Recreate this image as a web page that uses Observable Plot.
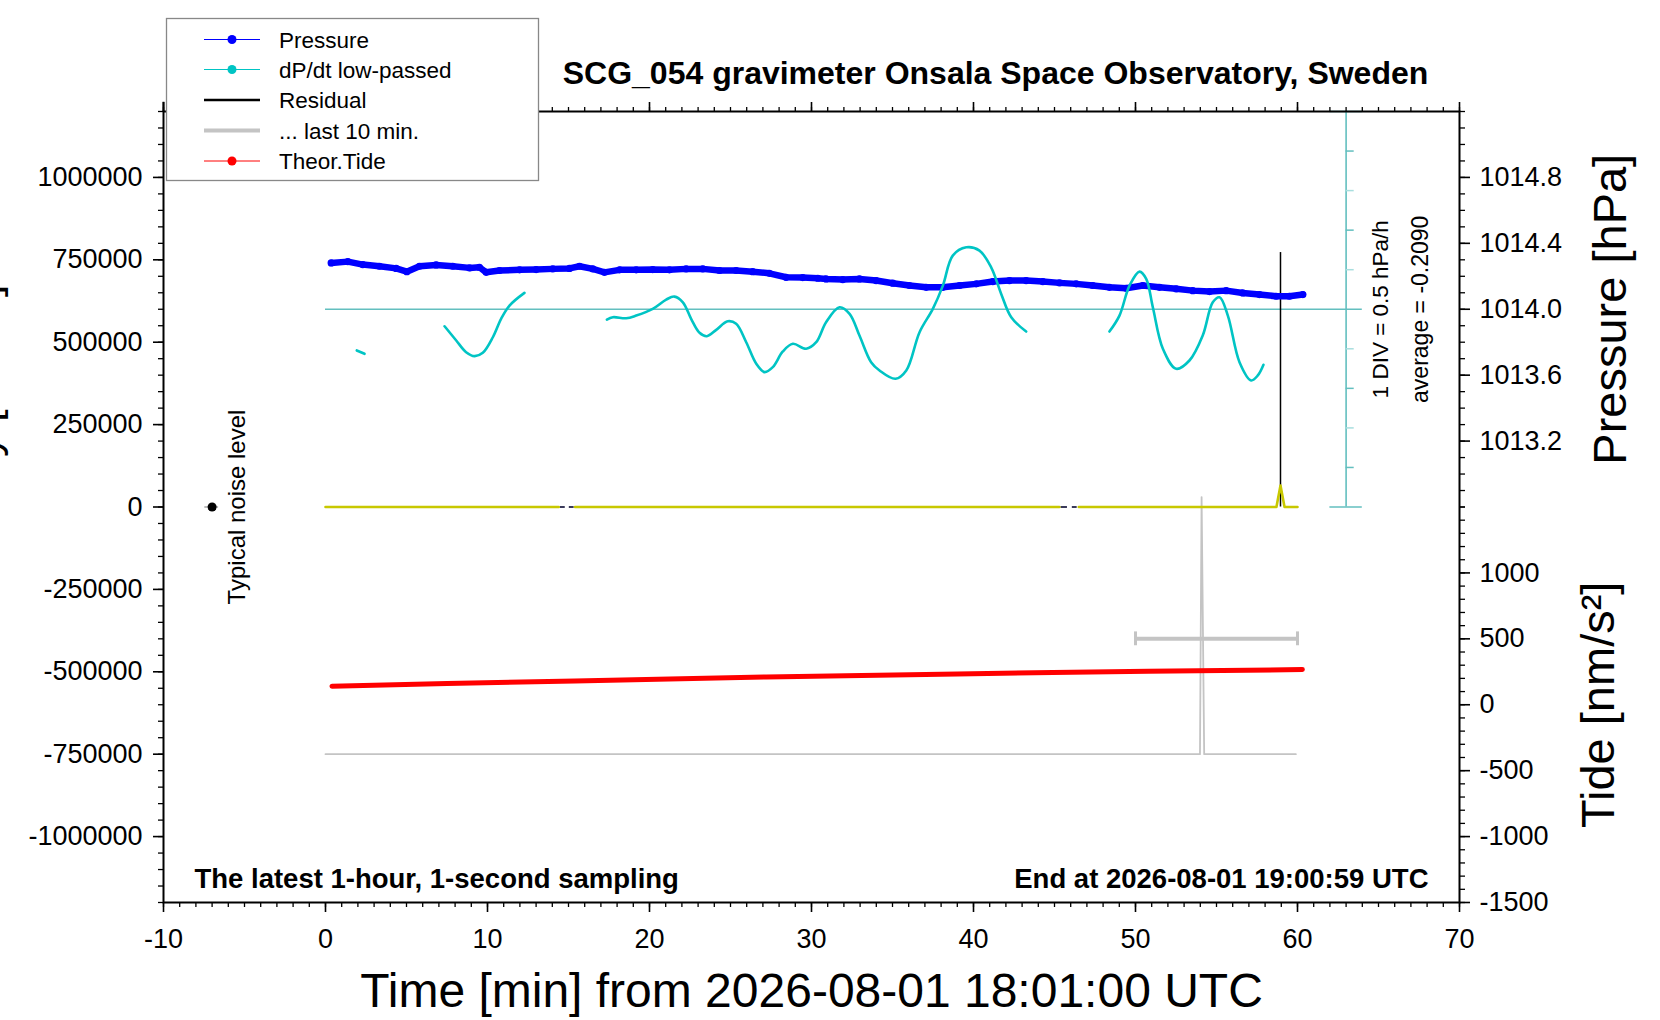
<!DOCTYPE html>
<html><head><meta charset="utf-8">
<script src="https://cdn.jsdelivr.net/npm/d3@7"></script>
<script src="https://cdn.jsdelivr.net/npm/@observablehq/plot@0.6"></script>
<style>
html,body{margin:0;padding:0;background:#fff;}
#chart{width:1660px;height:1020px;overflow:hidden;}
#chart svg text{font-family:"Liberation Sans", Arial, Helvetica, sans-serif;}
</style></head><body><div id="chart"></div>
<script>
// ---------------- data ----------------
const titleText = "SCG_054 gravimeter Onsala Space Observatory, Sweden";
const xLabel = "Time [min] from 2026-08-01 18:01:00 UTC";
const leftNote = "The latest 1-hour, 1-second sampling";
const rightNote = "End at 2026-08-01 19:00:59 UTC";
const legendLabels = ["Pressure", "dP/dt low-passed", "Residual", "... last 10 min.", "Theor.Tide"];

const xTicks = [-10, 0, 10, 20, 30, 40, 50, 60, 70];
const leftTicks = [-1000000, -750000, -500000, -250000, 0, 250000, 500000, 750000, 1000000];
const pressureTicks = [1013.2, 1013.6, 1014.0, 1014.4, 1014.8];
const tideTicks = [-1500, -1000, -500, 0, 500, 1000];

// pressure [hPa] : [minute, hPa]
const pressureReadings = [
 [0.35,1014.281],[1.38,1014.289],[2.3,1014.271],[3.33,1014.261],[4.36,1014.248],[5.02,1014.228],
 [5.8,1014.261],[6.83,1014.269],[7.86,1014.261],[8.89,1014.251],[9.5,1014.255],[9.92,1014.224],
 [10.74,1014.235],[11.98,1014.239],[13.0,1014.241],[14.03,1014.245],[15.06,1014.248],[15.68,1014.261],
 [16.5,1014.245],[17.22,1014.224],[18.15,1014.239],[19.18,1014.239],[20.2,1014.241],[21.23,1014.239],
 [22.26,1014.245],[23.29,1014.245],[24.32,1014.235],[25.35,1014.235],[26.37,1014.228],[27.4,1014.218],
 [28.43,1014.194],[29.46,1014.192],[30.39,1014.188],[30.9,1014.184],[31.93,1014.180],[32.96,1014.184],
 [33.99,1014.174],[35.02,1014.158],[36.05,1014.144],[37.08,1014.133],[38.11,1014.133],[39.14,1014.144],
 [40.17,1014.154],[41.19,1014.168],[42.22,1014.174],[43.25,1014.174],[44.28,1014.168],[45.31,1014.160],
 [46.34,1014.154],[47.36,1014.144],[48.39,1014.133],[49.42,1014.127],[50.45,1014.144],[51.48,1014.133],
 [52.51,1014.124],[53.54,1014.113],[54.57,1014.107],[55.6,1014.113],[56.62,1014.099],[57.65,1014.089],
 [58.68,1014.079],[59.5,1014.079],[60.33,1014.089]
];

// dP/dt low-passed [hPa/h] : [segment, minute, value]
const dpdtAverage = -0.2090;
const dpdtDiv = 0.5;
const dpdtReadings = [
 [1,1.93,-0.730],[1,2.41,-0.772],
 [2,7.35,-0.424],[2,8.07,-0.604],[2,8.68,-0.752],[2,9.2,-0.802],[2,9.71,-0.760],[2,10.33,-0.563],
 [2,10.84,-0.330],[2,11.36,-0.162],[2,12.28,-0.002],
 [3,17.37,-0.339],[3,17.74,-0.310],[3,18.56,-0.323],[3,19.18,-0.289],[3,20.2,-0.204],[3,21.03,-0.087],
 [3,21.54,-0.049],[3,22.06,-0.121],[3,22.57,-0.330],[3,23.09,-0.507],[3,23.54,-0.550],[3,24.12,-0.469],
 [3,24.83,-0.361],[3,25.35,-0.393],[3,25.97,-0.626],[3,26.59,-0.898],[3,27.1,-1.004],[3,27.61,-0.941],
 [3,28.23,-0.743],[3,28.85,-0.646],[3,29.67,-0.709],[3,30.29,-0.626],[3,30.9,-0.373],[3,31.73,-0.184],
 [3,32.35,-0.267],[3,32.96,-0.541],[3,33.68,-0.878],[3,34.2,-0.983],[3,35.19,-1.088],[3,35.85,-0.983],
 [3,36.67,-0.499],[3,37.49,-0.204],[3,38.11,0.090],[3,38.72,0.469],[3,39.55,0.574],[3,40.37,0.532],
 [3,41.09,0.321],[3,41.71,-0.015],[3,42.33,-0.310],[3,43.25,-0.491],
 [4,48.39,-0.491],[4,49.01,-0.289],[4,49.63,0.090],[4,50.25,0.267],[4,50.66,0.175],[4,51.07,-0.184],
 [4,51.69,-0.709],[4,52.51,-0.962],[4,53.33,-0.857],[4,54.15,-0.541],[4,54.77,-0.121],[4,55.19,-0.058],
 [4,55.7,-0.289],[4,56.42,-0.878],[4,57.14,-1.109],[4,57.55,-1.046],[4,57.9,-0.911]
];

// residual (filtered, yellow) : [segment, minute, value]
const residualReadings = [
 [1,0,0],[1,14.4,0],
 [2,15.4,0],[2,45.3,0],
 [3,46.5,0],[3,58.7,0],[3,58.95,65000],[3,59.2,0],[3,60.0,0]
];
// short dark pieces visible in the gaps : [minute start, minute end]
const residualGapPieces = [[14.5,14.8],[15.05,15.35],[45.4,45.8],[46.1,46.4]];
// residual spike (black) : minute, top value
const residualSpike = {t: 58.95, top: 772000};

// ... last 10 min (gray) : [minute, value]
const lastTenReadings = [[0,-750000],[53.98,-750000],[54.08,30000],[54.24,-750000],[59.9,-750000]];
const lastTenBar = {t1: 50, t2: 60, value: -400000, cap: 21000};

// theoretical tide [nm/s^2] : [minute, value]
const tideReadings = [[0.4,141],[7.5,161],[15.4,181],[27.2,211],[39.0,234],[44.9,245],[50.8,254],[60.3,267]];

// typical noise level
const noiseLevel = {t: -7.0, value: 0, t1: -7.45, t2: -6.6, labelT: -5.0};

// ---------------- scale mappings onto the left axis units ----------------
const pressureBase = 1012.8, unitsPerHPa = 500000;
const pToY = p => (p - pressureBase) * unitsPerHPa;
const yToP = y => y / unitsPerHPa + pressureBase;
const tToY = t => t * 400 - 600000;
const yToT = y => (y + 600000) / 400;
const dToY = d => 600000 + (d - dpdtAverage) / dpdtDiv * 120000;
const dpdtAxisT = 63;

const pressure = pressureReadings.map(([t, p]) => ({t, y: pToY(p)}));
const dpdt = dpdtReadings.map(([s, t, d]) => ({s, t, y: dToY(d)}));
const residual = residualReadings.map(([s, t, v]) => ({s, t, y: v}));
const lastTen = lastTenReadings.map(([t, v]) => ({t, y: v}));
const tide = tideReadings.map(([t, v]) => ({t, y: tToY(v)}));
const dpdtDivs = d3.range(-5, 6).map(k => ({k, y: dToY(dpdtAverage + k * dpdtDiv)}));

const minorX = d3.range(-10, 71, 1);
const minorLeft = d3.range(-1200000, 1200001, 50000);
const minorP = d3.range(0, 25).map(k => pToY(pressureBase + k * 0.1));
const minorT = d3.range(-15, 16).map(k => tToY(k * 100));

const font = "Liberation Sans, Arial, Helvetica, sans-serif";
const blank = () => "";

const plot = Plot.plot({
  width: 1660, height: 1020,
  marginLeft: 163, marginRight: 201, marginTop: 111, marginBottom: 118,
  x: {domain: [-10, 70], label: null},
  y: {domain: [-1200000, 1200000], label: null},
  style: {fontFamily: font, fontSize: "27px", background: "white", color: "black"},
  marks: [
    // dP/dt reference axis
    Plot.ruleY([dToY(dpdtAverage)], {x1: 0, x2: 64, stroke: "#63bfbf", strokeWidth: 1.6}),
    Plot.ruleX([dpdtAxisT], {y1: pToY(1012.8), y2: pToY(1015.2), stroke: "#63bfbf", strokeWidth: 1.6}),
    Plot.ruleY(dpdtDivs.filter(d => Math.abs(d.k) !== 5 && d.k !== 0), {y: "y", x1: dpdtAxisT, x2: dpdtAxisT + 0.5,
      stroke: d => (d.k % 2 === 0 ? "a" : "b"), strokeWidth: 1.5}),
    Plot.ruleY(dpdtDivs.filter(d => Math.abs(d.k) === 5), {y: "y", x1: dpdtAxisT - 1, x2: dpdtAxisT + 1, stroke: "#63bfbf", strokeWidth: 1.6}),
    // last 10 min (gray)
    Plot.line(lastTen, {x: "t", y: "y", stroke: "#c4c4c4", strokeWidth: 1.8}),
    Plot.ruleY([lastTenBar.value], {x1: lastTenBar.t1, x2: lastTenBar.t2, stroke: "#c4c4c4", strokeWidth: 4}),
    Plot.ruleX([lastTenBar.t1, lastTenBar.t2], {y1: lastTenBar.value - lastTenBar.cap, y2: lastTenBar.value + lastTenBar.cap, stroke: "#c4c4c4", strokeWidth: 3}),
    // residual (black spike) and filtered residual (yellow)
    Plot.ruleX([residualSpike.t], {y1: 0, y2: residualSpike.top, stroke: "black", strokeWidth: 1.5}),
    Plot.ruleY(residualGapPieces, {y: 0, x1: d => d[0], x2: d => d[1], stroke: "#3a3a5a", strokeWidth: 2}),
    Plot.line(residual, {x: "t", y: "y", z: "s", stroke: "#c8c800", strokeWidth: 2.6}),
    // pressure
    Plot.line(pressure, {x: "t", y: "y", stroke: "#0000ff", strokeWidth: 6.5, strokeLinejoin: "round", strokeLinecap: "round"}),
    Plot.dot(pressure, {x: "t", y: "y", r: 3.6, fill: "#0000ff"}),
    // dP/dt
    Plot.line(dpdt, {x: "t", y: "y", z: "s", stroke: "#00c4c4", strokeWidth: 2.6, curve: "catmull-rom"}),
    // tide
    Plot.line(tide, {x: "t", y: "y", stroke: "#ff0000", strokeWidth: 5, strokeLinecap: "round"}),
    // typical noise level
    Plot.ruleY([noiseLevel], {y: "value", x1: "t1", x2: "t2", stroke: "#bbbbbb", strokeWidth: 2}),
    Plot.dot([noiseLevel], {x: "t", y: "value", r: 4.5, fill: "black"}),
    Plot.text(["Typical noise level"], {x: noiseLevel.labelT, y: noiseLevel.value, rotate: -90, lineAnchor: "bottom", textAnchor: "middle", fontSize: 24}),
    // frame and axes
    Plot.frame({stroke: "black", strokeWidth: 2}),
    Plot.ruleX([-10], {y1: 1200000, y2: 1228000, stroke: "black", strokeWidth: 2}),
    Plot.axisX({ticks: xTicks, tickSize: 10, tickPadding: 16, tickFormat: d => String(d), label: null, fontSize: 27, strokeWidth: 1.6}),
    Plot.axisX({ticks: minorX, tickSize: 5, tickFormat: blank, label: null, strokeWidth: 1.3}),
    Plot.axisX({anchor: "top", ticks: xTicks, tickSize: 10, tickFormat: blank, label: null, strokeWidth: 1.6}),
    Plot.axisX({anchor: "top", ticks: minorX, tickSize: 5, tickFormat: blank, label: null, strokeWidth: 1.3}),
    Plot.axisY({ticks: leftTicks, tickSize: 10, tickPadding: 11, tickFormat: d => String(d), label: null, fontSize: 27, strokeWidth: 1.6}),
    Plot.axisY({ticks: minorLeft, tickSize: 5, tickFormat: blank, label: null, strokeWidth: 1.3}),
    Plot.axisY({anchor: "right", ticks: pressureTicks.map(pToY), tickSize: 10, tickPadding: 10, tickFormat: v => yToP(v).toFixed(1), label: null, fontSize: 27, strokeWidth: 1.6}),
    Plot.axisY({anchor: "right", ticks: minorP, tickSize: 5, tickFormat: blank, label: null, strokeWidth: 1.3}),
    Plot.axisY({anchor: "right", ticks: tideTicks.map(tToY), tickSize: 10, tickPadding: 10, tickFormat: v => String(Math.round(yToT(v))), label: null, fontSize: 27, strokeWidth: 1.6}),
    Plot.axisY({anchor: "right", ticks: minorT, tickSize: 5, tickFormat: blank, label: null, strokeWidth: 1.3}),
    // texts
    Plot.text([titleText], {frameAnchor: "top", dx: 184, dy: -28, lineAnchor: "bottom", textAnchor: "middle", fontWeight: "bold", fontSize: 32}),
    Plot.text([xLabel], {frameAnchor: "bottom", dy: 104, lineAnchor: "bottom", textAnchor: "middle", fontSize: 48}),
    Plot.text(["Pressure [hPa]"], {frameAnchor: "right", y: () => pToY(1014.0), dx: 166, rotate: -90, lineAnchor: "bottom", textAnchor: "middle", fontSize: 47}),
    Plot.text(["Tide [nm/s²]"], {frameAnchor: "right", y: () => tToY(0), dx: 154, rotate: -90, lineAnchor: "bottom", textAnchor: "middle", fontSize: 47}),
    Plot.text(["Gravity [nm/s²]"], {frameAnchor: "top-left", dx: -165, dy: 173, rotate: -90, textAnchor: "end", lineAnchor: "bottom", fontSize: 45}),
    Plot.text([`1 DIV = ${dpdtDiv} hPa/h`], {frameAnchor: "right", y: () => dToY(dpdtAverage), dx: -71.5, rotate: -90, lineAnchor: "bottom", textAnchor: "middle", fontSize: 22.5}),
    Plot.text([`average = ${dpdtAverage.toFixed(4)}`], {frameAnchor: "right", y: () => dToY(dpdtAverage), dx: -32, rotate: -90, lineAnchor: "bottom", textAnchor: "middle", fontSize: 23}),
    Plot.text([leftNote], {frameAnchor: "bottom-left", dx: 31, dy: -15, lineAnchor: "bottom", textAnchor: "start", fontWeight: "bold", fontSize: 27.5}),
    Plot.text([rightNote], {frameAnchor: "bottom-right", dx: -31, dy: -15, lineAnchor: "bottom", textAnchor: "end", fontWeight: "bold", fontSize: 27.5})
  ],
  color: {domain: ["a", "b"], range: ["#63bfbf", "#a8dede"]}
});

// legend
const svg = d3.select(plot);
const lg = svg.append("g").attr("font-family", font).attr("font-size", 22.5).attr("text-anchor", "start");
lg.append("rect").attr("x", 166.5).attr("y", 18.5).attr("width", 372).attr("height", 162)
  .attr("fill", "white").attr("stroke", "#888").attr("stroke-width", 1.3);
const legendStyles = [
  {color: "#0000ff", width: 1, dot: true},
  {color: "#00c4c4", width: 1, dot: true},
  {color: "#000000", width: 2.5, dot: false},
  {color: "#c4c4c4", width: 4, dot: false},
  {color: "#ff0000", width: 1, dot: true}
];
const rowY = [39.5, 69.5, 100, 130.5, 161];
legendLabels.forEach((label, i) => {
  const s = legendStyles[i], y = rowY[i];
  lg.append("line").attr("x1", 204).attr("x2", 260).attr("y1", y).attr("y2", y)
    .attr("stroke", s.color).attr("stroke-width", s.width);
  if (s.dot) lg.append("circle").attr("cx", 232).attr("cy", y).attr("r", 4.5).attr("fill", s.color);
  lg.append("text").attr("x", 279).attr("y", y).attr("dy", "0.36em").attr("fill", "black")
    .attr("text-anchor", "start").text(label);
});

document.getElementById("chart").appendChild(plot);
</script>
</body></html>
